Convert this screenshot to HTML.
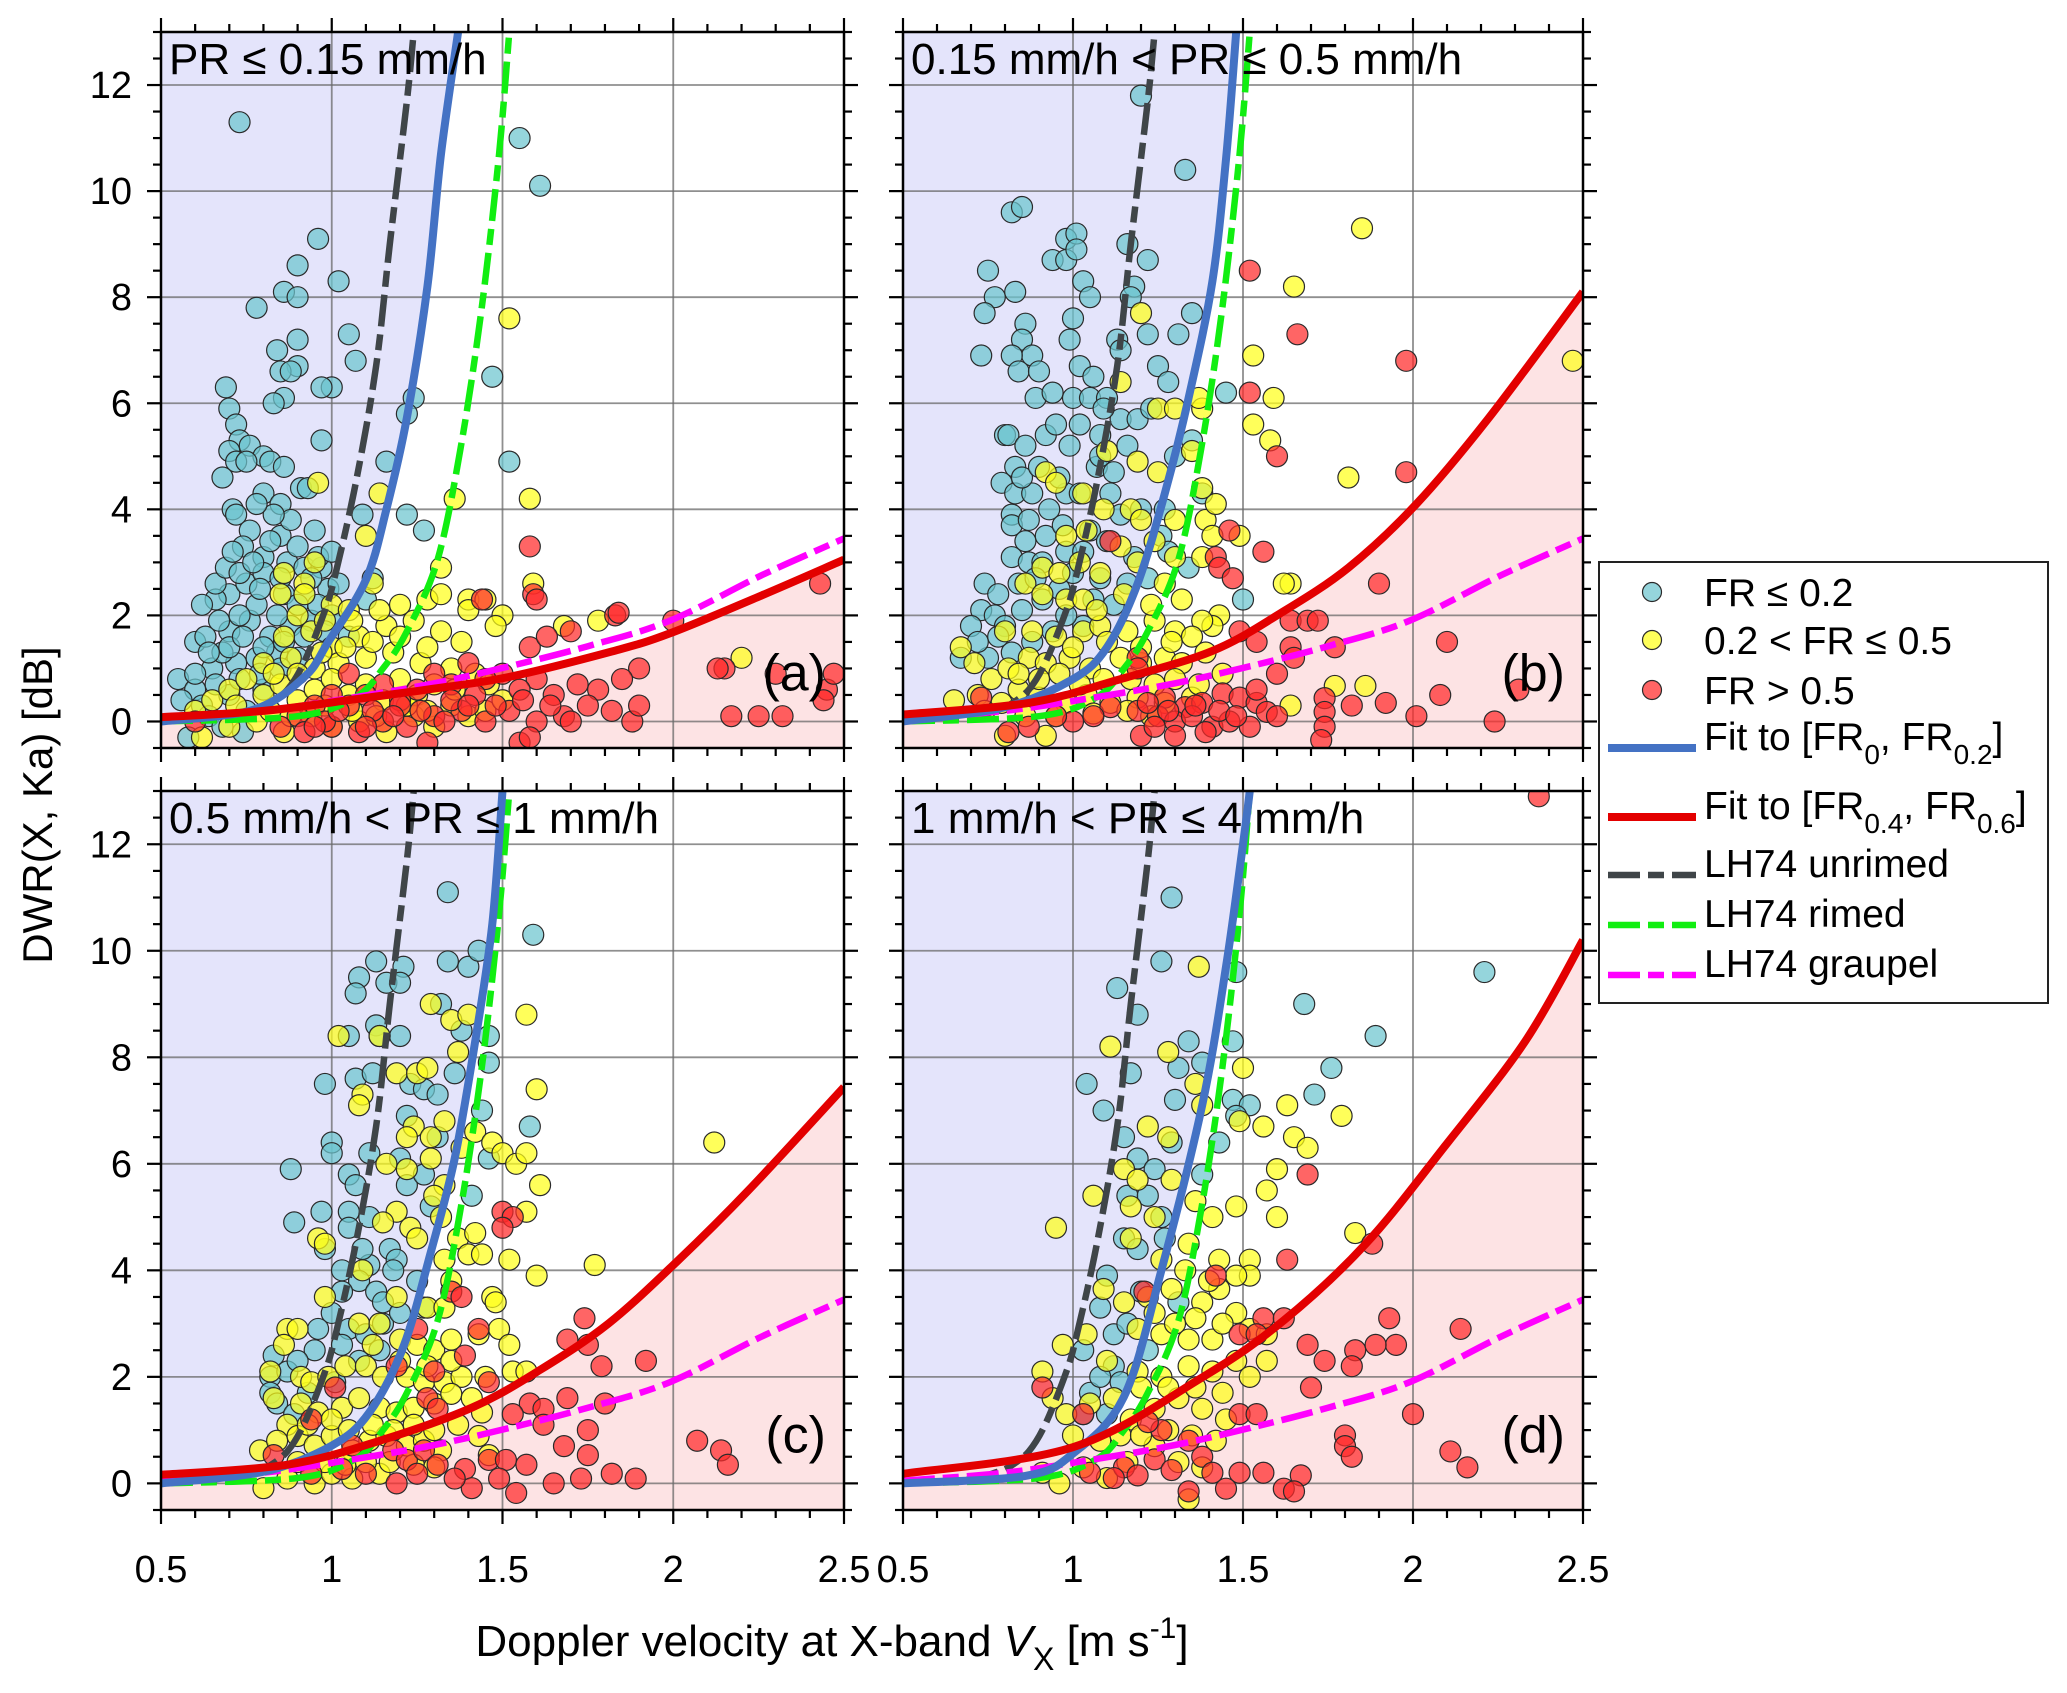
<!DOCTYPE html>
<html><head><meta charset="utf-8"><style>
html,body{margin:0;padding:0;background:#fff;}
svg{display:block;font-family:"Liberation Sans",Arial,sans-serif;}
</style></head><body>
<svg id="chart" width="2067" height="1693" viewBox="0 0 2067 1693" xmlns="http://www.w3.org/2000/svg"></svg>
<script>
// ---- data ----
const yTicks=[0,2,4,6,8,10,12];
const xTicks=[0.5,1,1.5,2,2.5];
const xTickLabels=["0.5","1","1.5","2","2.5"];
const yTickLabels=["0","2","4","6","8","10","12"];
const panelTitles=["PR \u2264 0.15 mm/h","0.15 mm/h < PR \u2264 0.5 mm/h","0.5 mm/h < PR \u2264 1 mm/h","1 mm/h < PR \u2264 4 mm/h"];
const panelLetters=["(a)","(b)","(c)","(d)"];
const lhUnrimed=[[0.5,0],[0.7,0.08],[0.77,0.2],[0.81,0.3],[0.87,0.6],[0.92,1.13],[0.98,2.09],[1.01,2.76],[1.07,4.49],[1.13,6.7],[1.17,9.0],[1.22,11.7],[1.24,13]];
const lhRimed=[[0.5,0],[0.9,0.1],[1.07,0.46],[1.15,1.0],[1.22,1.7],[1.31,3.05],[1.38,5.25],[1.44,7.84],[1.49,10.7],[1.52,13]];
const lhGraupel=[[0.5,0.05],[0.8,0.2],[1.07,0.46],[1.3,0.72],[1.52,1.04],[1.75,1.42],[1.99,1.9],[2.26,2.76],[2.5,3.45]];
const blueFitA=[[0.5,0],[0.77,0.22],[0.92,0.84],[0.99,1.5],[1.1,2.67],[1.16,4.0],[1.22,5.73],[1.28,8.2],[1.32,10.7],[1.37,13]];
const blueFitB=[[0.5,0],[0.8,0.27],[1.0,0.8],[1.1,1.4],[1.19,2.6],[1.27,4.3],[1.34,6.1],[1.41,8.3],[1.45,10.6],[1.48,13]];
const blueFitC=[[0.5,0],[0.8,0.22],[1.0,0.71],[1.11,1.33],[1.21,2.57],[1.29,4.34],[1.36,6.1],[1.42,8.3],[1.47,10.5],[1.5,13]];
const blueFitD=[[0.5,0],[0.86,0.14],[1.0,0.56],[1.15,1.63],[1.26,4.0],[1.38,7.1],[1.45,9.7],[1.5,12],[1.52,13]];
const redFitA=[[0.5,0.08],[0.8,0.2],[1.07,0.42],[1.3,0.62],[1.52,0.84],[1.82,1.32],[1.99,1.66],[2.26,2.38],[2.5,3.05]];
const redFitB=[[0.5,0.13],[0.87,0.35],[1.14,0.8],[1.41,1.33],[1.61,2.04],[1.81,2.9],[2.01,4.1],[2.22,5.7],[2.5,8.1]];
const redFitC=[[0.5,0.16],[0.87,0.35],[1.14,0.8],[1.41,1.42],[1.61,2.13],[1.81,3.0],[2.01,4.16],[2.22,5.5],[2.5,7.44]];
const redFitD=[[0.5,0.18],[1.0,0.68],[1.38,1.99],[1.62,3.06],[1.86,4.49],[2.09,6.3],[2.33,8.3],[2.5,10.2]];

const cyanA=[[0.73,11.3],[0.96,9.1],[0.78,7.8],[0.86,8.1],[0.9,8.6],[0.9,8.0],[1.02,8.3],[0.9,7.2],[0.9,6.7],[0.84,7.0],[0.85,6.6],[0.88,6.6],[1.05,7.3],[1.07,6.8],[1.0,6.3],[0.97,6.3],[0.86,6.1],[0.83,6.0],[1.24,6.1],[1.22,5.8],[0.69,6.3],[0.7,5.9],[0.72,5.6],[0.73,5.3],[0.7,5.1],[0.76,5.2],[0.8,5.0],[0.72,4.9],[0.75,4.9],[0.68,4.6],[0.82,4.9],[0.86,4.8],[0.97,5.3],[1.16,4.9],[1.47,6.5],[1.55,11.0],[1.61,10.1],[1.52,4.9],[1.22,3.9],[1.27,3.6],[1.09,3.9],[0.71,4.0],[0.72,3.9],[0.8,4.3],[0.85,4.1],[0.91,4.4],[0.93,4.4],[0.95,3.6],[0.85,3.5],[0.76,3.6],[0.74,3.3],[0.8,3.1],[0.87,3.0],[0.92,2.9],[0.97,2.9],[0.7,2.4],[0.66,2.3],[0.75,2.6],[0.8,2.8],[0.86,2.4],[0.92,2.4],[0.99,2.5],[1.02,2.6],[1.12,2.7],[0.6,1.5],[0.63,1.6],[0.7,1.7],[0.76,1.9],[0.82,1.6],[0.88,1.8],[0.94,1.9],[0.55,0.8],[0.6,0.6],[0.65,1.0],[0.72,1.1],[0.78,1.2],[0.84,1.3],[0.9,1.2],[0.62,0.3],[0.7,0.5],[0.75,0.2],[0.58,-0.3],[0.8,0.6],[0.68,1.3],[0.62,2.2],[0.78,2.2],[0.84,2.0],[1.05,1.6],[0.66,2.6],[0.69,2.9],[0.73,2.8],[0.77,3.0],[0.71,3.2],[0.82,3.4],[0.88,3.8],[0.9,3.3],[0.96,3.1],[0.67,1.9],[0.73,2.0],[0.79,2.5],[0.85,2.7],[0.9,2.2],[0.96,2.2],[1.0,2.0],[0.64,1.3],[0.7,1.4],[0.74,1.6],[0.8,1.4],[0.86,1.5],[0.92,1.6],[0.98,1.7],[0.6,0.9],[0.66,0.7],[0.73,0.8],[0.79,0.9],[0.85,1.0],[0.56,0.4],[0.64,0.1],[0.68,-0.1],[0.74,-0.2],[0.83,3.9],[0.78,4.1],[1.1,2.3],[0.94,2.7],[1.0,3.2]];
const yellowA=[[0.96,4.5],[1.14,4.3],[1.1,3.5],[0.95,3.0],[0.86,2.8],[0.92,2.6],[1.0,2.2],[1.05,2.1],[1.12,2.6],[1.2,2.2],[1.28,2.3],[1.32,2.4],[1.4,2.3],[1.45,2.3],[1.5,2.0],[1.48,1.8],[1.38,1.5],[1.32,1.7],[1.24,1.9],[1.16,1.8],[1.08,1.6],[1.0,1.4],[0.94,1.7],[0.86,1.6],[0.8,1.1],[0.88,1.2],[0.95,1.0],[1.02,1.1],[1.1,1.2],[1.18,1.3],[1.26,1.1],[1.35,1.0],[1.42,0.9],[1.46,0.7],[0.6,0.2],[0.65,0.4],[0.7,0.6],[0.75,0.8],[0.8,0.5],[0.85,0.7],[0.9,0.4],[0.95,0.6],[1.0,0.8],[1.05,0.5],[1.1,0.7],[1.15,0.4],[1.2,0.8],[1.25,0.5],[1.3,0.7],[1.35,0.3],[1.4,0.1],[0.62,-0.3],[0.7,-0.1],[0.78,0.0],[0.86,-0.2],[0.94,0.1],[1.0,-0.1],[1.08,0.0],[1.16,-0.2],[1.24,0.1],[1.3,-0.1],[1.52,7.6],[1.58,4.2],[1.59,2.6],[2.2,1.2],[1.78,1.9],[1.68,1.8],[1.36,4.2],[1.32,2.9],[0.92,2.4],[0.85,2.4],[1.4,2.1],[1.45,0.2],[1.5,0.4],[0.83,0.9],[0.9,0.9],[0.97,1.3],[1.04,1.4],[1.12,1.5],[1.2,1.6],[1.28,1.4],[0.72,0.3],[0.82,0.2],[0.88,0.1],[0.98,0.3],[1.06,0.2],[1.13,0.1],[1.22,0.3],[1.28,0.2],[1.36,0.6],[1.06,1.9],[1.14,2.1],[0.98,1.9],[0.9,2.0]];
const redA=[[1.58,3.3],[1.59,2.4],[1.6,2.3],[1.44,2.3],[1.58,1.4],[1.63,1.6],[1.7,1.7],[1.83,2.0],[1.84,2.05],[2.0,1.9],[2.15,1.0],[2.13,1.0],[2.3,0.9],[2.17,0.1],[2.25,0.1],[2.32,0.1],[2.45,0.6],[2.44,0.4],[2.47,0.9],[2.43,2.6],[1.9,1.0],[1.85,0.8],[1.78,0.6],[1.72,0.7],[1.65,0.5],[1.6,0.8],[1.55,0.6],[1.5,0.9],[1.45,0.8],[1.4,1.1],[1.35,0.7],[1.3,0.9],[1.25,0.6],[1.2,0.4],[1.15,0.7],[1.1,0.5],[1.05,0.3],[1.0,0.5],[0.95,0.3],[0.9,0.1],[0.85,-0.1],[0.92,-0.2],[1.0,-0.1],[1.08,-0.2],[1.15,0.0],[1.22,-0.1],[1.3,0.1],[1.38,0.2],[1.45,0.0],[1.52,0.2],[1.6,0.0],[1.68,0.1],[1.75,0.3],[1.82,0.2],[1.88,0.0],[1.9,0.3],[1.55,-0.4],[1.58,-0.3],[1.28,-0.4],[1.2,0.3],[1.12,0.2],[1.05,0.9],[0.98,0.0],[0.6,0.0],[1.35,0.4],[1.42,0.5],[1.48,0.3],[1.56,0.4],[1.64,0.3],[1.7,0.0],[1.18,0.1],[1.26,0.2],[1.33,0.0],[1.4,0.3],[1.02,0.2],[0.95,-0.1],[1.1,-0.1]];

const cyanB=[[1.2,11.8],[1.33,10.4],[0.82,9.6],[0.85,9.7],[0.98,9.1],[1.01,9.2],[0.94,8.7],[0.98,8.7],[1.01,8.9],[1.16,9.0],[1.22,8.7],[0.75,8.5],[0.77,8.0],[0.83,8.1],[0.74,7.7],[1.03,8.3],[1.05,8.0],[1.18,8.2],[1.17,8.0],[1.0,7.6],[0.86,7.5],[0.85,7.2],[0.88,6.9],[0.73,6.9],[0.82,6.9],[0.84,6.6],[0.9,6.6],[0.99,7.2],[1.13,7.2],[1.14,7.0],[1.22,7.3],[1.31,7.3],[1.35,7.7],[1.25,6.7],[0.89,6.1],[1.02,6.7],[1.06,6.5],[1.0,6.1],[1.05,6.1],[1.1,6.1],[1.28,6.4],[1.45,6.2],[0.8,5.4],[0.81,5.4],[0.86,5.2],[0.92,5.4],[0.95,5.6],[0.99,5.2],[1.02,5.6],[1.08,5.4],[1.14,5.7],[1.19,5.7],[1.23,5.9],[1.35,5.3],[0.79,4.5],[0.83,4.8],[0.83,4.3],[0.88,4.3],[0.82,3.9],[0.82,3.7],[0.87,3.8],[0.93,4.0],[0.98,4.3],[1.02,4.3],[1.07,4.8],[1.11,4.3],[1.14,3.9],[1.2,4.0],[1.26,3.5],[1.28,3.2],[0.82,3.1],[0.87,3.0],[0.91,3.0],[0.98,3.2],[1.03,3.2],[1.18,3.1],[1.22,2.7],[1.34,2.9],[1.5,2.3],[0.74,2.6],[0.73,2.1],[0.77,2.0],[0.7,1.8],[0.8,1.8],[0.85,2.1],[0.91,2.3],[0.96,2.5],[0.67,1.2],[0.75,1.2],[0.82,1.3],[0.94,1.7],[1.03,1.8],[1.16,2.6],[1.08,2.7],[1.27,4.0],[1.38,4.3],[1.3,5.0],[0.85,4.6],[0.9,4.8],[0.96,4.6],[0.86,3.4],[0.92,3.5],[0.97,3.7],[1.05,3.6],[1.1,3.4],[0.78,2.4],[0.84,2.6],[0.89,2.7],[1.0,2.8],[1.06,2.3],[1.12,2.2],[0.72,1.5],[0.78,1.6],[0.88,1.5],[0.98,2.0],[1.08,5.0],[1.12,4.7],[1.16,5.2],[0.94,6.2],[1.09,5.9]];
const yellowB=[[1.85,9.3],[1.65,8.2],[1.53,6.9],[2.47,6.8],[1.59,6.1],[1.53,5.6],[1.58,5.3],[1.81,4.6],[1.2,7.7],[1.14,6.4],[1.25,5.9],[1.3,5.9],[1.38,5.9],[1.37,6.1],[1.35,5.1],[1.19,4.9],[1.25,4.7],[1.1,5.1],[0.92,4.7],[0.95,4.5],[1.03,4.3],[1.09,4.0],[1.17,4.0],[1.2,3.8],[1.3,3.8],[1.39,3.8],[1.42,4.1],[1.38,4.4],[0.98,3.5],[1.04,3.6],[1.14,3.3],[1.24,3.4],[1.3,3.1],[1.41,3.5],[1.49,3.5],[0.91,2.9],[0.96,2.8],[1.02,3.0],[1.08,2.8],[1.19,3.0],[1.38,3.1],[1.64,2.6],[0.86,2.6],[0.91,2.4],[0.98,2.3],[1.03,2.3],[1.27,2.6],[1.32,2.3],[1.43,2.0],[1.41,1.8],[1.38,1.9],[0.8,1.7],[0.88,1.7],[0.95,1.6],[1.03,1.7],[1.08,1.8],[1.16,1.7],[1.24,1.9],[1.3,1.7],[1.35,1.6],[0.67,1.4],[0.71,1.1],[0.76,0.8],[0.81,1.0],[0.87,1.2],[0.92,1.1],[0.99,1.2],[1.05,1.0],[1.14,1.2],[1.2,1.1],[1.27,1.2],[1.32,1.1],[1.39,1.3],[1.44,0.9],[0.65,0.4],[0.72,0.5],[0.79,0.35],[0.84,0.6],[0.9,0.45],[0.98,0.35],[1.04,0.5],[1.11,0.35],[1.19,0.45],[1.27,0.35],[1.35,0.45],[0.8,-0.27],[0.92,-0.27],[1.77,0.67],[1.86,0.67],[1.64,0.3],[1.62,2.6],[0.84,0.9],[0.9,0.8],[0.96,0.9],[1.02,0.7],[1.09,0.8],[1.17,0.8],[1.24,0.7],[1.3,0.8],[1.37,0.7],[0.74,0.2],[0.86,0.1],[0.95,0.1],[1.06,0.15],[1.16,0.2],[1.23,0.1],[1.0,1.4],[1.1,1.5],[1.2,1.4],[1.29,1.5],[1.07,2.1],[1.15,2.4],[1.23,2.2]];
const redB=[[1.52,8.5],[1.66,7.3],[1.98,6.8],[1.52,6.2],[1.6,5.0],[1.98,4.7],[1.11,3.4],[1.46,3.6],[1.56,3.2],[1.42,3.1],[1.43,2.9],[1.47,2.7],[1.9,2.6],[1.64,1.9],[1.69,1.9],[1.72,1.9],[1.49,1.7],[1.54,1.5],[1.64,1.4],[1.77,1.4],[2.1,1.5],[1.65,1.2],[1.6,0.9],[1.19,1.2],[1.19,1.0],[2.31,0.6],[2.08,0.5],[1.92,0.35],[1.82,0.3],[2.01,0.1],[2.24,0.0],[1.74,0.44],[1.74,0.18],[1.74,-0.1],[1.73,-0.35],[1.27,0.45],[1.33,0.27],[1.38,0.35],[1.44,0.53],[1.49,0.45],[1.54,0.35],[1.57,0.18],[1.19,0.2],[1.25,0.1],[1.3,0.0],[1.35,0.1],[1.41,-0.1],[1.46,0.0],[1.52,-0.1],[1.11,0.27],[1.06,0.1],[1.0,0.0],[0.95,0.1],[0.87,-0.1],[0.81,-0.2],[0.73,0.45],[1.2,-0.27],[1.3,-0.27],[1.54,0.6],[1.22,0.35],[1.28,0.2],[1.36,0.3],[1.43,0.2],[1.48,0.1],[1.24,-0.1],[1.39,-0.2],[1.6,0.1]];

const cyanC=[[1.34,11.1],[1.59,10.3],[1.13,9.8],[1.21,9.7],[1.34,9.8],[1.4,9.7],[1.43,10.0],[1.08,9.5],[1.07,9.2],[1.16,9.4],[1.2,9.4],[1.32,9.0],[1.05,8.4],[1.13,8.6],[1.2,8.4],[1.14,8.4],[1.38,8.5],[1.46,8.4],[0.98,7.5],[1.07,7.6],[1.12,7.7],[1.23,7.5],[1.27,7.4],[1.31,7.3],[1.36,7.7],[1.44,7.0],[1.46,7.9],[1.58,6.7],[1.22,6.9],[1.31,6.5],[1.0,6.4],[1.0,6.2],[1.05,5.8],[1.07,5.6],[0.88,5.9],[1.11,6.2],[1.2,6.1],[1.22,5.6],[1.27,5.8],[1.41,5.4],[1.46,6.1],[0.97,5.1],[1.05,5.1],[1.11,5.0],[1.29,5.2],[0.89,4.9],[0.98,4.4],[1.05,4.8],[1.17,4.4],[1.19,4.2],[1.03,4.0],[1.11,4.1],[1.08,3.8],[1.18,4.0],[1.03,3.6],[1.13,3.6],[1.15,3.4],[1.27,3.3],[1.05,2.9],[1.1,2.8],[1.03,2.6],[0.95,2.5],[0.83,2.4],[0.82,2.0],[0.82,1.7],[0.84,1.5],[0.87,2.1],[0.89,1.3],[0.93,1.7],[1.01,1.9],[1.09,4.4],[1.15,3.0],[1.2,3.2],[1.25,3.8],[1.0,3.2],[0.96,2.9],[1.08,2.3],[1.14,2.5],[0.9,2.3]];
const yellowC=[[1.57,8.8],[1.29,9.0],[1.35,8.7],[1.4,8.8],[1.02,8.4],[1.14,8.4],[1.37,8.1],[1.19,7.7],[1.25,7.7],[1.28,7.8],[1.6,7.4],[1.09,7.3],[1.08,7.1],[1.24,6.7],[1.22,6.5],[1.29,6.5],[1.33,6.8],[1.38,6.3],[1.42,6.6],[1.47,6.4],[1.5,6.2],[1.54,6.0],[1.57,6.2],[1.16,6.0],[1.22,5.9],[1.29,6.1],[1.61,5.6],[1.33,5.6],[1.3,5.4],[1.19,5.1],[1.15,4.9],[1.23,4.8],[1.32,5.0],[1.37,4.6],[1.42,4.7],[1.57,5.1],[0.96,4.6],[0.98,4.5],[1.25,4.6],[1.4,4.3],[1.44,4.3],[1.52,4.2],[1.77,4.1],[1.6,3.9],[1.09,4.0],[1.33,4.2],[1.35,3.8],[0.98,3.5],[1.19,3.5],[1.28,3.3],[1.33,3.3],[1.47,3.5],[1.48,3.4],[0.87,2.9],[0.9,2.9],[1.08,3.0],[1.14,3.0],[1.2,2.7],[1.25,2.6],[1.3,2.5],[1.35,2.7],[1.43,2.8],[1.49,2.9],[1.52,2.6],[0.86,2.6],[0.82,2.1],[0.91,2.0],[0.94,1.9],[0.99,2.0],[1.04,2.2],[1.1,2.2],[1.15,2.0],[1.22,2.0],[1.27,1.9],[1.33,1.9],[1.38,2.0],[1.45,2.0],[1.53,2.1],[1.57,2.1],[2.12,6.4],[0.83,1.6],[0.87,1.1],[0.91,1.5],[0.96,1.33],[1.03,1.42],[1.08,1.6],[1.14,1.42],[1.19,1.33],[1.24,1.42],[1.3,1.5],[1.35,1.68],[1.41,1.6],[1.44,1.33],[0.79,0.62],[0.84,0.8],[0.9,0.89],[0.95,0.71],[1.0,0.89],[1.06,0.62],[1.11,0.8],[1.16,0.89],[1.22,0.71],[1.27,0.8],[1.32,0.62],[1.43,0.89],[1.46,0.53],[0.8,-0.09],[0.87,0.09],[0.95,0.0],[1.0,0.18],[1.06,0.09],[1.14,0.18],[0.93,1.1],[1.0,1.2],[1.05,1.0],[1.12,1.1],[1.18,1.0],[1.24,1.1],[1.3,1.0],[1.37,1.1],[0.9,0.4],[0.98,0.4],[1.04,0.35],[1.1,0.4],[1.17,0.4],[1.24,0.35],[1.3,0.3],[1.2,2.3],[1.28,2.2],[1.35,2.3],[1.12,2.6]];
const redC=[[1.5,5.1],[1.53,5.0],[1.5,4.8],[1.74,3.1],[1.69,2.7],[1.75,2.6],[1.79,2.2],[1.92,2.3],[1.35,3.6],[1.38,3.5],[1.43,2.9],[1.25,2.9],[1.39,2.4],[1.19,2.2],[1.3,2.1],[1.01,1.8],[1.28,1.6],[1.31,1.4],[1.46,1.9],[1.69,1.6],[1.58,1.5],[1.62,1.4],[1.8,1.5],[0.94,1.2],[1.53,1.3],[1.62,1.1],[1.75,1.0],[1.68,0.7],[1.75,0.53],[2.07,0.8],[2.14,0.62],[2.16,0.35],[1.06,0.71],[1.18,0.62],[1.22,0.44],[1.27,0.62],[1.31,0.35],[1.39,0.27],[1.46,0.44],[1.51,0.44],[1.41,-0.09],[1.49,0.09],[1.54,-0.18],[1.57,0.35],[1.65,0.0],[1.73,0.09],[1.82,0.18],[1.89,0.09],[0.83,0.53],[0.94,0.18],[1.03,0.27],[1.1,0.18],[1.19,0.0],[1.25,0.18],[1.36,0.09]];

const cyanD=[[1.29,11.0],[1.13,9.3],[1.26,9.8],[1.19,8.8],[2.21,9.6],[1.68,9.0],[1.89,8.4],[1.76,7.8],[1.71,7.3],[1.04,7.5],[1.09,7.0],[1.17,7.7],[1.34,8.3],[1.38,7.9],[1.48,9.6],[1.47,8.3],[1.31,7.8],[1.3,7.2],[1.47,7.2],[1.52,7.1],[1.15,6.5],[1.19,6.1],[1.24,5.9],[1.29,6.4],[1.16,5.4],[1.22,5.4],[1.26,5.0],[1.15,4.6],[1.1,3.9],[1.08,3.3],[1.12,2.8],[1.03,2.5],[1.05,1.7],[1.19,4.4],[1.38,5.8],[1.43,6.4],[1.48,6.9],[1.03,1.3],[1.1,1.3],[1.31,3.4],[1.12,2.2],[1.16,3.0],[1.2,3.6],[1.08,2.0],[1.14,1.9],[1.22,2.5],[1.27,4.6]];
const yellowD=[[0.95,4.8],[1.37,9.7],[1.28,8.1],[1.11,8.2],[1.63,7.1],[1.79,6.9],[1.65,6.5],[1.69,6.3],[1.6,5.9],[1.57,5.5],[1.6,5.0],[1.83,4.7],[1.52,4.2],[1.52,3.9],[1.5,7.8],[1.36,7.5],[1.38,7.1],[1.49,6.8],[1.56,6.7],[1.22,6.7],[1.28,6.5],[1.15,5.9],[1.19,5.7],[1.06,5.4],[1.17,5.2],[1.24,5.0],[1.29,5.7],[1.36,5.3],[1.41,5.0],[1.48,5.2],[1.17,4.6],[1.26,4.2],[1.34,4.5],[1.43,4.2],[1.48,3.9],[1.09,3.65],[1.15,3.4],[1.22,3.5],[1.29,3.65],[1.38,3.4],[1.43,3.65],[1.48,3.2],[1.52,2.9],[1.57,2.8],[1.19,2.9],[1.26,2.8],[1.34,2.7],[1.41,2.7],[0.97,2.6],[1.04,2.8],[1.1,2.3],[1.19,2.1],[1.26,2.0],[1.34,2.2],[1.41,2.1],[1.48,2.3],[0.91,2.1],[0.94,1.6],[0.98,1.3],[1.05,1.5],[1.12,1.6],[1.17,1.2],[1.24,1.4],[1.31,1.6],[1.38,1.4],[1.45,1.2],[0.91,0.2],[0.96,0.0],[1.03,0.3],[1.1,0.1],[1.24,0.7],[1.31,0.4],[1.34,-0.3],[1.57,2.3],[1.52,2.0],[1.3,3.0],[1.36,3.1],[1.44,3.0],[1.33,4.0],[1.4,3.8],[1.24,3.2],[1.2,1.8],[1.28,1.8],[1.36,1.8],[1.44,1.7],[1.0,0.9],[1.08,0.8],[1.14,0.9],[1.2,0.9],[1.28,1.0],[1.35,0.9],[1.42,0.8],[1.16,0.4],[1.38,0.3]];
const redD=[[2.37,12.9],[1.69,5.8],[1.63,4.2],[1.88,4.5],[2.14,2.9],[1.93,3.1],[1.95,2.6],[1.83,2.5],[1.89,2.6],[1.69,2.6],[1.74,2.3],[1.82,2.2],[1.56,3.1],[1.62,3.1],[1.49,2.8],[1.54,2.8],[1.42,3.9],[1.21,3.6],[1.03,1.3],[0.91,1.8],[1.7,1.8],[2.0,1.3],[1.8,0.9],[1.8,0.7],[1.82,0.5],[2.11,0.6],[2.16,0.3],[1.49,1.3],[1.54,1.3],[1.49,0.2],[1.56,0.2],[1.67,0.15],[1.62,-0.1],[1.65,-0.15],[1.45,-0.1],[1.34,-0.15],[1.15,0.3],[1.19,0.15],[1.24,0.45],[1.29,0.25],[1.12,0.1],[1.05,0.2],[1.38,0.5],[1.41,0.2],[1.26,1.0],[1.34,0.8],[1.22,1.15]];

// ---- layout ----
const NS="http://www.w3.org/2000/svg";
const svg=document.getElementById('chart');
function el(tag,attrs,parent){const e=document.createElementNS(NS,tag);for(const k in attrs)e.setAttribute(k,attrs[k]);(parent||svg).appendChild(e);return e;}
const panels=[
 {L:161,R:844,T:32,B:748,blue:blueFitA,red:redFitA,cyan:cyanA,yellow:yellowA,reds:redA,ylab:true,xlab:false},
 {L:903,R:1583,T:32,B:748,blue:blueFitB,red:redFitB,cyan:cyanB,yellow:yellowB,reds:redB,ylab:false,xlab:false},
 {L:161,R:844,T:791,B:1510,blue:blueFitC,red:redFitC,cyan:cyanC,yellow:yellowC,reds:redC,ylab:true,xlab:true},
 {L:903,R:1583,T:791,B:1510,blue:blueFitD,red:redFitD,cyan:cyanD,yellow:yellowD,reds:redD,ylab:false,xlab:true}
];
const XMIN=0.5,XMAX=2.5,YMIN=-0.5,YMAX=13;
function smoothPath(pts){
  let d="M"+pts[0][0].toFixed(1)+","+pts[0][1].toFixed(1);
  for(let i=0;i<pts.length-1;i++){
    const p0=pts[Math.max(0,i-1)],p1=pts[i],p2=pts[i+1],p3=pts[Math.min(pts.length-1,i+2)];
    const c1=[p1[0]+(p2[0]-p0[0])/6,p1[1]+(p2[1]-p0[1])/6];
    const c2=[p2[0]-(p3[0]-p1[0])/6,p2[1]-(p3[1]-p1[1])/6];
    d+=" C"+c1[0].toFixed(1)+","+c1[1].toFixed(1)+" "+c2[0].toFixed(1)+","+c2[1].toFixed(1)+" "+p2[0].toFixed(1)+","+p2[1].toFixed(1);
  }
  return d;
}
const names=["a","b","c","d"];
panels.forEach((p,i)=>{
  const xs=v=>p.L+(v-XMIN)/(XMAX-XMIN)*(p.R-p.L);
  const ys=v=>p.B-(v-YMIN)/(YMAX-YMIN)*(p.B-p.T);
  const g=el('g',{});
  
  
  const cp=el('clipPath',{id:'clip'+i},g);
  el('rect',{x:p.L,y:p.T,width:p.R-p.L,height:p.B-p.T},cp);
  el('rect',{x:p.L,y:p.T,width:p.R-p.L,height:p.B-p.T,fill:'#fff'},g);
  const inner=el('g',{'clip-path':'url(#clip'+i+')'},g);
  const bp=p.blue.map(q=>[xs(q[0]),ys(q[1])]);
  const lav=el('path',{d:smoothPath(bp)+" L"+bp[bp.length-1][0]+","+(p.T-5)+" L"+p.L+","+(p.T-5)+" L"+p.L+","+bp[0][1]+"Z",fill:'#e4e4fb'},inner);
  
  
  const rp=p.red.map(q=>[xs(q[0]),ys(q[1])]);
  const pk=el('path',{d:smoothPath(rp)+" L"+p.R+","+p.B+" L"+p.L+","+p.B+"Z",fill:'#fde3e4'},inner);
  
  
  yTicks.forEach(t=>{const l=el('line',{x1:p.L,x2:p.R,y1:ys(t),y2:ys(t),stroke:'#6a6a6a','stroke-width':1.8,'stroke-opacity':0.75},inner);
    });
  xTicks.forEach(t=>{const l=el('line',{x1:xs(t),x2:xs(t),y1:p.T,y2:p.B,stroke:'#6a6a6a','stroke-width':1.8,'stroke-opacity':0.75},inner);
    });
  const groups=[[p.cyan,'#6cc5cf','fr-low-point'],[p.yellow,'#ffff1a','fr-mid-point'],[p.reds,'#ff2a2a','fr-high-point']];
  groups.forEach(gr=>{
    gr[0].forEach(q=>{
      const c=el('circle',{cx:xs(q[0]),cy:ys(q[1]),r:10.5,fill:gr[1],'fill-opacity':0.72,stroke:'#2a2a2a','stroke-width':1.2},inner);
      
      
    });
  });
  const curves=[[lhUnrimed,'#3f4548',6.5,'32 8 16 8','lh74-unrimed-line'],[lhRimed,'#11ee11',6.5,'32 8 16 8','lh74-rimed-line'],[lhGraupel,'#ff00ff',6.5,'32 8 16 8','lh74-graupel-line'],[p.blue,'#4472c4',8,'','fit-low-fr-line'],[p.red,'#e30000',8,'','fit-high-fr-line']];
  curves.forEach(c=>{
    const pts=c[0].map(q=>[xs(q[0]),ys(q[1])]);
    const a={d:smoothPath(pts),fill:'none',stroke:c[1],'stroke-width':c[2]};
    if(c[3])a['stroke-dasharray']=c[3];
    const e=el('path',a,inner);
    
    
  });
  const fr=el('rect',{x:p.L,y:p.T,width:p.R-p.L,height:p.B-p.T,fill:'none',stroke:'#000','stroke-width':2.5},g);
  
  
  for(let k=0;k<=20;k++){const v=XMIN+k*0.1;const x=xs(v);const len=(k%5===0)?14:8;
    el('line',{x1:x,x2:x,y1:p.B,y2:p.B+len,stroke:'#000','stroke-width':2.2},g);
    el('line',{x1:x,x2:x,y1:p.T,y2:p.T-len,stroke:'#000','stroke-width':2.2},g);}
  for(let k=0;k<=27;k++){const v=YMIN+k*0.5;const y=ys(v);const major=Math.abs(v%2)<1e-6;const len=major?14:8;
    el('line',{x1:p.L,x2:p.L-len,y1:y,y2:y,stroke:'#000','stroke-width':2.2},g);
    el('line',{x1:p.R,x2:p.R+len,y1:y,y2:y,stroke:'#000','stroke-width':2.2},g);}
  if(p.ylab){yTicks.forEach((t,j)=>{const tx=el('text',{x:p.L-29,y:ys(t)+13,'font-size':38,'text-anchor':'end',fill:'#000'},g);tx.textContent=yTickLabels[j];
    });}
  if(p.xlab){xTicks.forEach((t,j)=>{const tx=el('text',{x:xs(t),y:1582,'font-size':38,'text-anchor':'middle',fill:'#000'},g);tx.textContent=xTickLabels[j];
    });}
  const tt=el('text',{x:p.L+8,y:p.T+42,'font-size':44,fill:'#000'},g);tt.textContent=panelTitles[i];
  
  const lt=el('text',{x:p.R-18,y:ys(0)-31,'font-size':52,'text-anchor':'end',fill:'#000'},g);lt.textContent=panelLetters[i];
  
});
const yt=el('text',{x:0,y:0,'font-size':42,'text-anchor':'middle',transform:'translate(52,805) rotate(-90)',fill:'#000'});
yt.textContent="DWR(X, Ka) [dB]";


const xt=el('text',{x:832,y:1656,'font-size':44,'text-anchor':'middle',fill:'#000'});


xt.innerHTML='Doppler velocity at X-band <tspan font-style="italic">V</tspan><tspan font-size="32" dy="14">X</tspan><tspan dy="-14"> [m s</tspan><tspan font-size="30" dy="-18">-1</tspan><tspan dy="18">]</tspan>';
const lg=el('g',{});


el('rect',{x:1599,y:562,width:449,height:441,fill:'#fff',stroke:'#222','stroke-width':2},lg);
const legMarkers=[['#6cc5cf',592,'FR \u2264 0.2'],['#ffff1a',640,'0.2 < FR \u2264 0.5'],['#ff2a2a',690,'FR > 0.5']];
legMarkers.forEach(m=>{
  const c=el('circle',{cx:1652,cy:m[1],r:9.5,fill:m[0],'fill-opacity':0.72,stroke:'#2a2a2a','stroke-width':1.2},lg);
  
  const t=el('text',{x:1704,y:m[1]+14,'font-size':39,fill:'#000'},lg);t.textContent=m[2];
  
});
const legLines=[['#4472c4',748,'',8,'Fit to [FR<tspan font-size="28" dy="14">0</tspan><tspan dy="-14">, FR</tspan><tspan font-size="28" dy="14">0.2</tspan><tspan dy="-14">]</tspan>'],
 ['#e30000',817,'',8,'Fit to [FR<tspan font-size="28" dy="14">0.4</tspan><tspan dy="-14">, FR</tspan><tspan font-size="28" dy="14">0.6</tspan><tspan dy="-14">]</tspan>'],
 ['#3f4548',875,'32 8 16 8',6.5,'LH74 unrimed'],['#11ee11',925,'32 8 16 8',6.5,'LH74 rimed'],['#ff00ff',975,'32 8 16 8',6.5,'LH74 graupel']];
legLines.forEach(m=>{
  const a={x1:1608,x2:1696,y1:m[1],y2:m[1],stroke:m[0],'stroke-width':m[3]};
  if(m[2])a['stroke-dasharray']=m[2];
  const l=el('line',a,lg);
  
  const t=el('text',{x:1704,y:m[1]+2,'font-size':39,fill:'#000'},lg);t.innerHTML=m[4];
  
});
</script>
</body></html>
